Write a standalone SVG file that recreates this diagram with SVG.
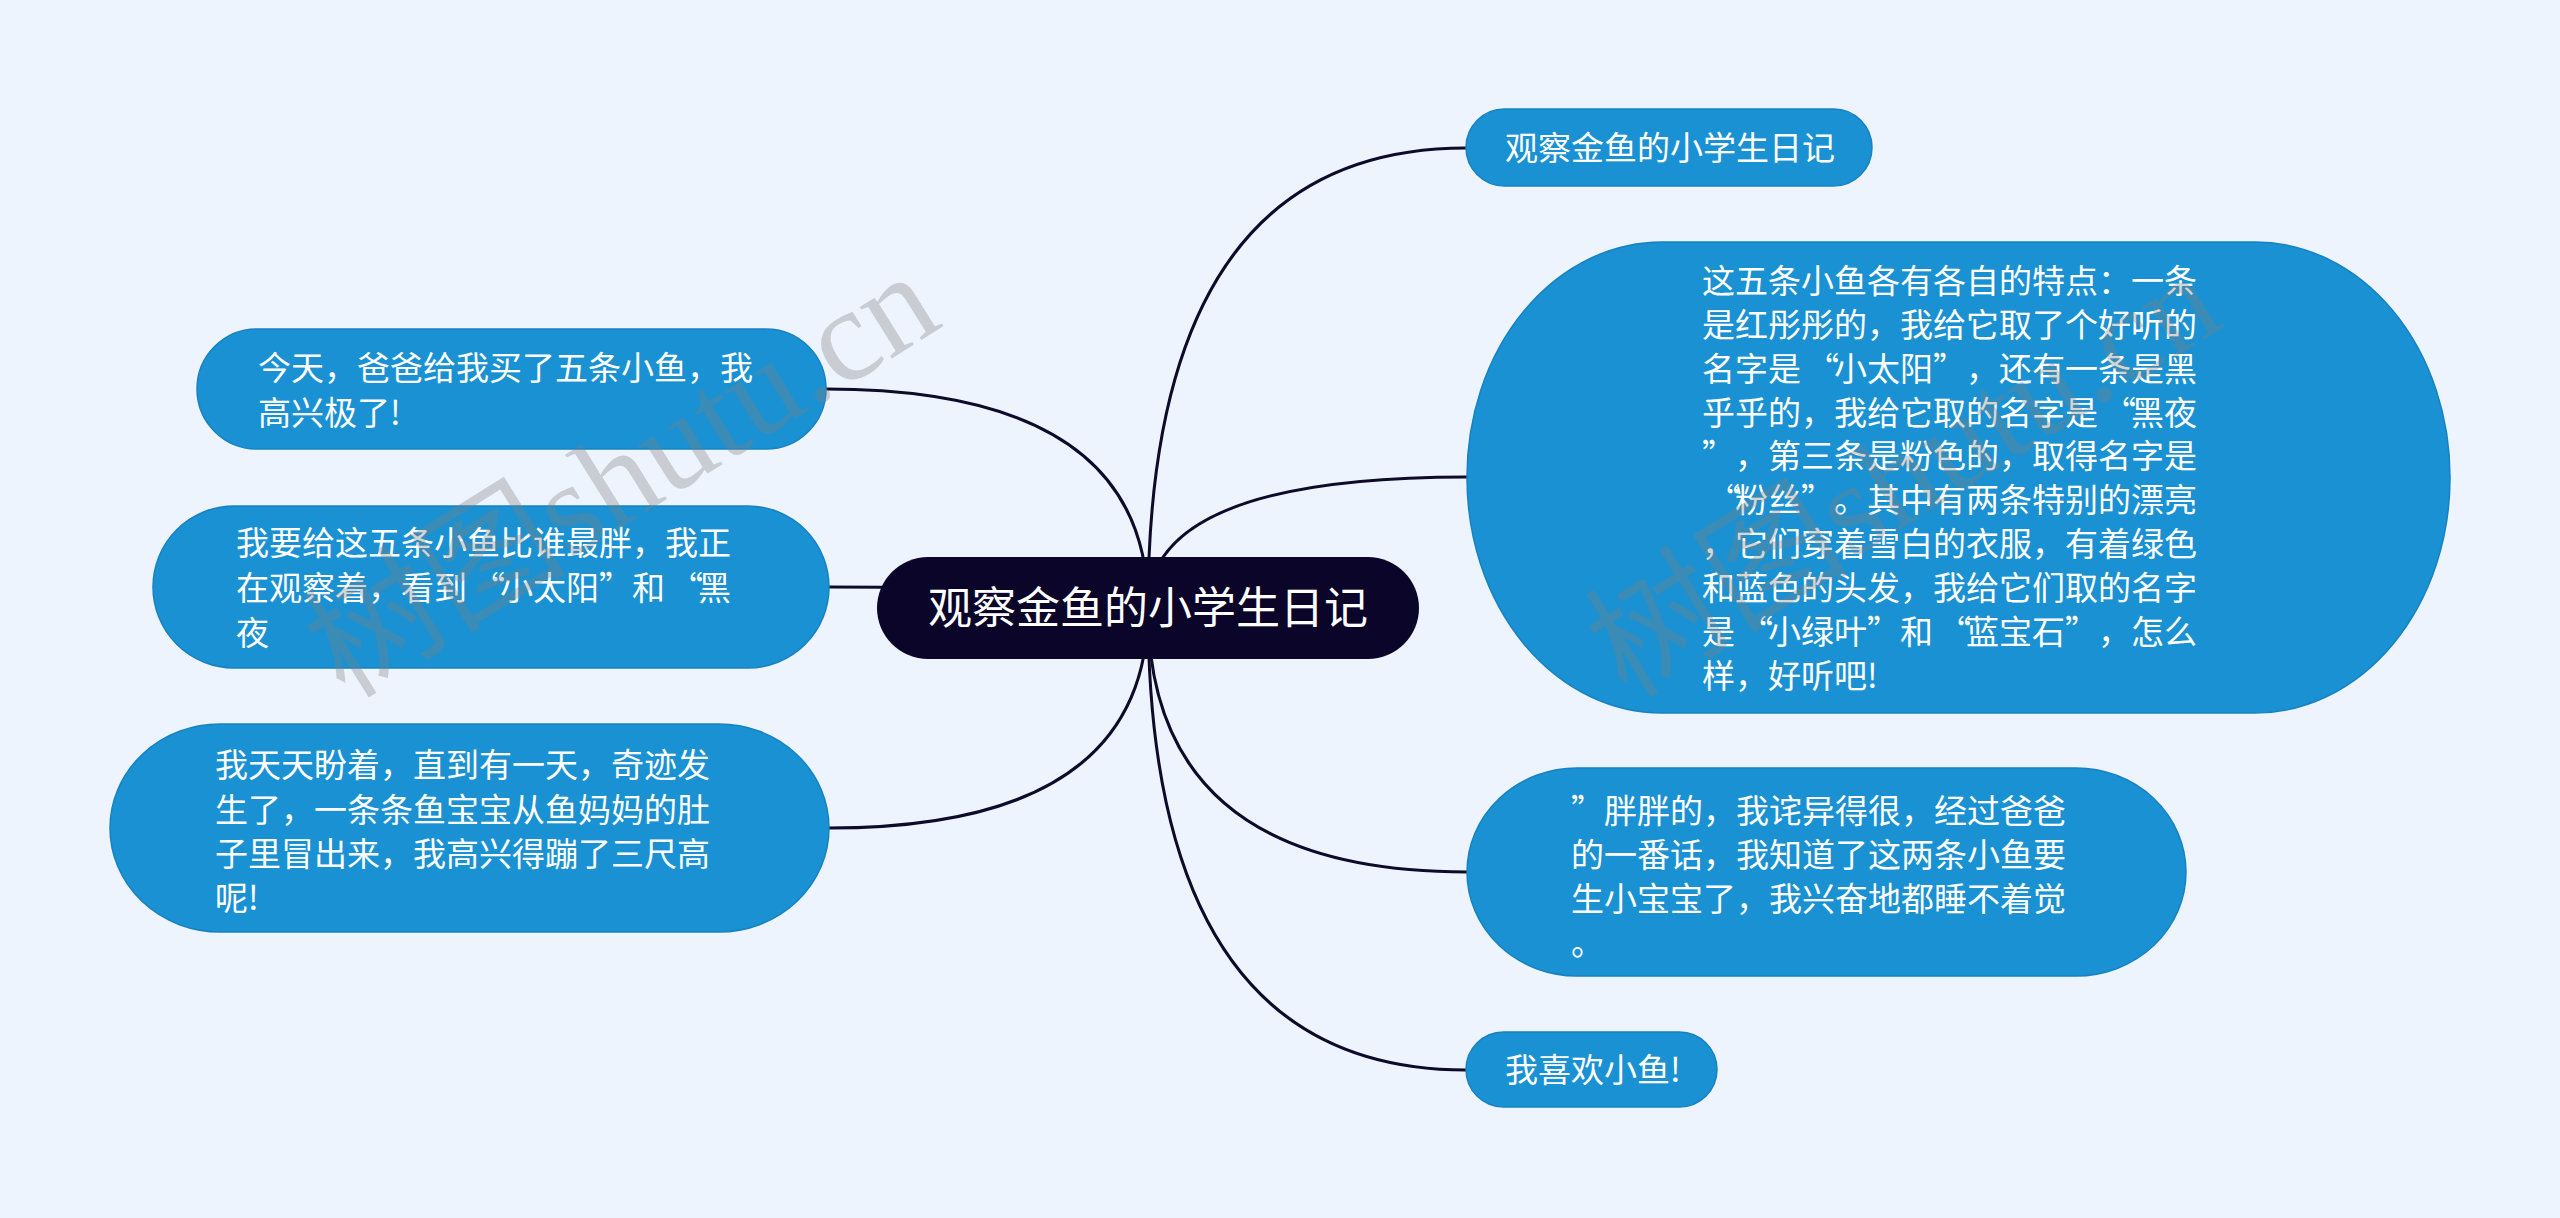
<svg xmlns="http://www.w3.org/2000/svg" width="2560" height="1218" viewBox="0 0 2560 1218">
<style>
.bg{fill:#eef4fd}
.node{fill:#1a91d2;stroke:#1782c2;stroke-width:1.5}
.root{fill:#0a0529}
.t{fill:#ffffff;font-family:"Noto Sans CJK SC","Noto Sans",sans-serif;font-size:33px}
.rt{fill:#ffffff;font-family:"Noto Sans CJK SC","Noto Sans",sans-serif;font-size:44px}
.edge{fill:none;stroke:#0d0a2a;stroke-width:3}
.wm{fill:#808080;fill-opacity:0.33;font-family:"Liberation Serif","Noto Sans CJK SC",serif;font-size:132px}
</style>
<rect class="bg" x="0" y="0" width="2560" height="1218"/>
<g id="connectors">
<path class="edge" d="M1148 608 Q1148 148 1466 148"/>
<path class="edge" d="M1148 608 Q1148 477 1467 477"/>
<path class="edge" d="M1148 608 Q1148 872 1467 872"/>
<path class="edge" d="M1148 608 Q1148 1070 1466 1070"/>
<path class="edge" d="M1148 608 Q1148 389 826 389"/>
<path class="edge" d="M1148 608 Q1148 587 829 587"/>
<path class="edge" d="M1148 608 Q1148 828 829 828"/>
</g>
<g id="root">
<rect class="root" x="877" y="557" width="542" height="102" rx="51" ry="51"/>
<text class="rt" x="928" y="624">观察金鱼的小学生日记</text>
</g>
<g id="n1">
<rect class="node" x="1466" y="109" width="406" height="77" rx="38.5" ry="38.5"/>
<text class="t" x="1505" y="160">观察金鱼的小学生日记</text>
</g>
<g id="n2">
<rect class="node" x="1467" y="242" width="983" height="471" rx="195" ry="235"/>
<text class="t" x="1702" y="293">这五条小鱼各有各自的特点：一条</text>
<text class="t" x="1702" y="337">是红彤彤的，我给它取了个好听的</text>
<text class="t" x="1702" y="381">名字是<tspan x="1806">“</tspan><tspan x="1834">小太阳</tspan><tspan x="1933">”</tspan><tspan x="1966">，还有一条是黑</tspan></text>
<text class="t" x="1702" y="425">乎乎的，我给它取的名字是<tspan x="2103">“</tspan><tspan x="2131">黑夜</tspan></text>
<text class="t" x="1702" y="468">”<tspan x="1735">，第三条是粉色的，取得名字是</tspan></text>
<text class="t" x="1707" y="512">“<tspan x="1735">粉丝</tspan><tspan x="1801">”</tspan><tspan x="1834">。其中有两条特别的漂亮</tspan></text>
<text class="t" x="1702" y="556">，它们穿着雪白的衣服，有着绿色</text>
<text class="t" x="1702" y="600">和蓝色的头发，我给它们取的名字</text>
<text class="t" x="1702" y="644">是<tspan x="1740">“</tspan><tspan x="1768">小绿叶</tspan><tspan x="1867">”</tspan><tspan x="1900">和</tspan><tspan x="1938">“</tspan><tspan x="1966">蓝宝石</tspan><tspan x="2065">”</tspan><tspan x="2098">，怎么</tspan></text>
<text class="t" x="1702" y="688">样，好听吧!</text>
</g>
<g id="n3">
<rect class="node" x="1467" y="768" width="719" height="208" rx="110" ry="104"/>
<text class="t" x="1571" y="823">”<tspan x="1604">胖胖的，我诧异得很，经过爸爸</tspan></text>
<text class="t" x="1571" y="867">的一番话，我知道了这两条小鱼要</text>
<text class="t" x="1571" y="911">生小宝宝了，我兴奋地都睡不着觉</text>
<text class="t" x="1571" y="955">。</text>
</g>
<g id="n4">
<rect class="node" x="1466" y="1032" width="251" height="75" rx="37.5" ry="37.5"/>
<text class="t" x="1505" y="1082">我喜欢小鱼!</text>
</g>
<g id="l1">
<rect class="node" x="197" y="329" width="629" height="120" rx="60" ry="60"/>
<text class="t" x="258" y="380">今天，爸爸给我买了五条小鱼，我</text>
<text class="t" x="258" y="425">高兴极了!</text>
</g>
<g id="l2">
<rect class="node" x="153" y="506" width="676" height="162" rx="81" ry="81"/>
<text class="t" x="236" y="555">我要给这五条小鱼比谁最胖，我正</text>
<text class="t" x="236" y="600">在观察着，看到<tspan x="472">“</tspan><tspan x="500">小太阳</tspan><tspan x="599">”</tspan><tspan x="632">和</tspan><tspan x="670">“</tspan><tspan x="698">黑</tspan></text>
<text class="t" x="236" y="645">夜</text>
</g>
<g id="l3">
<rect class="node" x="110" y="724" width="719" height="208" rx="110" ry="104"/>
<text class="t" x="215" y="777">我天天盼着，直到有一天，奇迹发</text>
<text class="t" x="215" y="822">生了，一条条鱼宝宝从鱼妈妈的肚</text>
<text class="t" x="215" y="866">子里冒出来，我高兴得蹦了三尺高</text>
<text class="t" x="215" y="910">呢!</text>
</g>
<g id="watermarks">
<text class="wm" transform="translate(345,700) rotate(-32)">树图shutu.cn</text>
<text class="wm" transform="translate(1627,700) rotate(-32)">树图shutu.cn</text>
</g>
</svg>
